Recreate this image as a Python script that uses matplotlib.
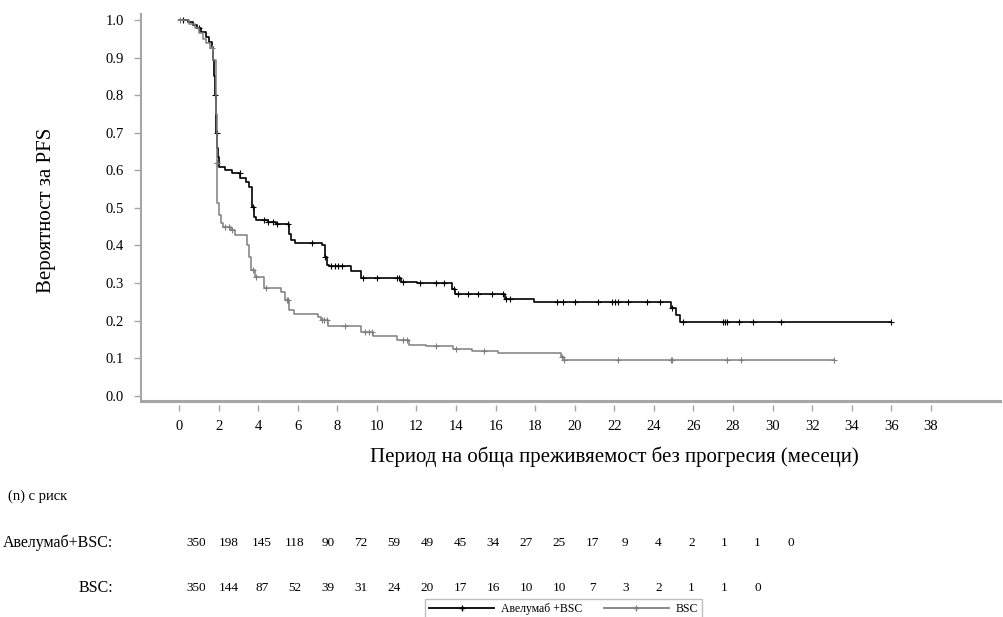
import numpy as np
import matplotlib
matplotlib.use("Agg")
import matplotlib.pyplot as plt
from matplotlib.lines import Line2D

plt.rcParams['font.family'] = ['Liberation Serif', 'DejaVu Serif']

# Крива Авелумаб+BSC (времена на стъпките, месеци / вероятност след стъпката)
ave_t = [0, 0.45, 0.7, 0.9, 1.1, 1.35, 1.5, 1.65, 1.72, 1.78, 1.82, 1.85, 1.88, 1.92,
         1.95, 2.02, 2.3, 2.7, 3.1, 3.4, 3.55, 3.68, 3.78, 3.9, 4.5, 4.9, 5.55, 5.65,
         5.85, 7.25, 7.38, 7.48, 7.6, 8.7, 9.2, 11.2, 12.05, 13.8, 13.95, 16.5, 17.95,
         24.85, 25.1, 25.3, 36.0]
ave_s = [1.0, 0.994, 0.987, 0.978, 0.969, 0.955, 0.942, 0.929, 0.894, 0.85, 0.80, 0.75,
         0.70, 0.66, 0.636, 0.61, 0.60, 0.592, 0.579, 0.57, 0.556, 0.503, 0.476, 0.469,
         0.462, 0.457, 0.43, 0.414, 0.407, 0.40, 0.37, 0.348, 0.345, 0.333, 0.314, 0.303,
         0.299, 0.285, 0.27, 0.2566, 0.25, 0.233, 0.215, 0.197, 0.197]
ave_cens = [0.2, 1.0, 1.84, 1.91, 3.07, 3.74, 4.3, 4.5, 4.75, 4.95, 5.5, 6.7, 7.4, 7.7,
            7.9, 8.05, 8.25, 9.3, 10.0, 11.0, 11.1, 11.3, 12.2, 13.0, 13.4, 13.9, 14.1,
            14.6, 15.1, 15.8, 16.4, 16.55, 16.75, 19.1, 19.4, 20.0, 21.2, 21.9, 22.05,
            22.2, 22.7, 23.65, 24.3, 24.9, 25.5, 27.5, 27.6, 27.7, 28.33, 29.0, 30.45, 36.0]

# Крива BSC
bsc_t = [0, 0.5, 0.8, 1.0, 1.2, 1.35, 1.55, 1.7, 1.86, 1.88, 1.9, 1.92, 2.0, 2.1, 2.2,
         2.6, 2.85, 3.45, 3.55, 3.65, 3.85, 4.3, 5.15, 5.35, 5.55, 5.8, 7.0, 7.15, 7.55,
         9.2, 9.8, 11.0, 11.6, 12.5, 13.85, 14.8, 16.1, 19.3, 19.45, 33.1]
bsc_s = [1.0, 0.989, 0.98, 0.965, 0.95, 0.938, 0.925, 0.894, 0.80, 0.75, 0.62, 0.513,
         0.48, 0.459, 0.45, 0.441, 0.428, 0.40, 0.37, 0.335, 0.317, 0.286, 0.276, 0.255,
         0.228, 0.217, 0.21, 0.2015, 0.1855, 0.17, 0.159, 0.148, 0.135, 0.132, 0.125,
         0.12, 0.113, 0.103, 0.095, 0.095]
bsc_cens = [0.05, 1.65, 1.9, 1.91, 2.3, 2.5, 2.7, 3.74, 3.9, 4.4, 5.45, 5.5, 7.2, 7.35,
            7.5, 8.4, 9.4, 9.6, 9.75, 11.3, 11.5, 13.0, 14.0, 15.4, 19.35, 19.45, 22.2,
            24.88, 24.92, 27.7, 28.4, 33.1]

# Брой изложени на риск
risk_months = list(range(0, 37, 2))
risk_ave = [350, 198, 145, 118, 90, 72, 59, 49, 45, 34, 27, 25, 17, 9, 4, 2, 1, 1, 0]
risk_bsc = [350, 144, 87, 52, 39, 31, 24, 20, 17, 16, 10, 10, 7, 3, 2, 1, 1, 0]

x_ticks = list(range(0, 39, 2))
y_ticks = [0.0, 0.1, 0.2, 0.3, 0.4, 0.5, 0.6, 0.7, 0.8, 0.9, 1.0]

W, H = 1004, 617
fig = plt.figure(figsize=(W / 100, H / 100), dpi=100)
ax = fig.add_axes([140.7 / W, 1 - 401 / H, (1000 - 140.7) / W, (401 - 14) / H])

def surv_at(t, s, c):
    idx = np.searchsorted(t, c, side='right') - 1
    return np.array(s)[idx]

black = "#000000"
gray = "#7f7f7f"
ax.step(ave_t, ave_s, where='post', color=black, lw=1.2)
ax.plot(ave_cens, surv_at(ave_t, ave_s, ave_cens), ls='none', marker='+',
        color=black, ms=5, mew=0.8)
ax.step(bsc_t, bsc_s, where='post', color=gray, lw=1.1)
ax.plot(bsc_cens, surv_at(bsc_t, bsc_s, bsc_cens), ls='none', marker='+',
        color=gray, ms=5, mew=0.8)

ax.set_xlim(-1.94, 41.5)
ax.set_ylim(-0.014, 1.016)
ax.set_xticks(x_ticks)
ax.set_yticks(y_ticks)
ax.set_yticklabels([f"{v:.1f}" for v in y_ticks])

spine_col = "#a6a6a6"
for s in ['top', 'right']:
    ax.spines[s].set_visible(False)
ax.spines['left'].set_color(spine_col)
ax.spines['left'].set_linewidth(1.5)
ax.spines['bottom'].set_position(('outward', 3))
ax.spines['bottom'].set_visible(False)
ax.axhline(-0.014, color=spine_col, lw=2.2, clip_on=False)
ax.tick_params(axis='x', length=4, width=1, color=spine_col, pad=7, labelsize=10.5)
ax.tick_params(axis='y', length=5, width=1, color=spine_col, pad=7, labelsize=10.5)

fig.text(47 / W, 1 - 210 / H, "Вероятност за PFS", rotation=90, fontsize=15,
         ha='center', va='center')
fig.text(614 / W, 1 - 457 / H, "Период на обща преживяемост без прогресия (месеци)",
         fontsize=15, ha='center', va='center')

# Таблица с броя на риск
row1_y, row2_y = 543, 588
fig.text(8 / W, 1 - 496 / H, "(n) с риск", fontsize=10.5, ha='left', va='center')
fig.text(113 / W, 1 - row1_y / H, "Авелумаб+BSC:", fontsize=11.5, ha='right', va='center')
fig.text(113 / W, 1 - row2_y / H, "BSC:", fontsize=11.5, ha='right', va='center')
for m, n in zip(risk_months, risk_ave):
    fig.text((196 + m * 16.51) / W, 1 - row1_y / H, str(n), fontsize=9.5,
             ha='center', va='center')
for m, n in zip(risk_months, risk_bsc):
    fig.text((196 + m * 16.51) / W, 1 - row2_y / H, str(n), fontsize=9.5,
             ha='center', va='center')

handles = [Line2D([], [], color=black, lw=1.3, marker='+', ms=5),
           Line2D([], [], color=gray, lw=1.3, marker='+', ms=5)]
leg = fig.legend(handles, ["Авелумаб +BSC", "BSC"], ncol=2, loc='upper left',
                 bbox_to_anchor=(425 / W, 1 - 599 / H), fontsize=8.5,
                 frameon=True, fancybox=False, handlelength=5.5, numpoints=1,
                 borderpad=0.35, columnspacing=1.8, handletextpad=0.6,
                 borderaxespad=0)
leg.get_frame().set_edgecolor("#b0b0b0")
leg.get_frame().set_linewidth(1)

fig.savefig("out.png", dpi=100)
